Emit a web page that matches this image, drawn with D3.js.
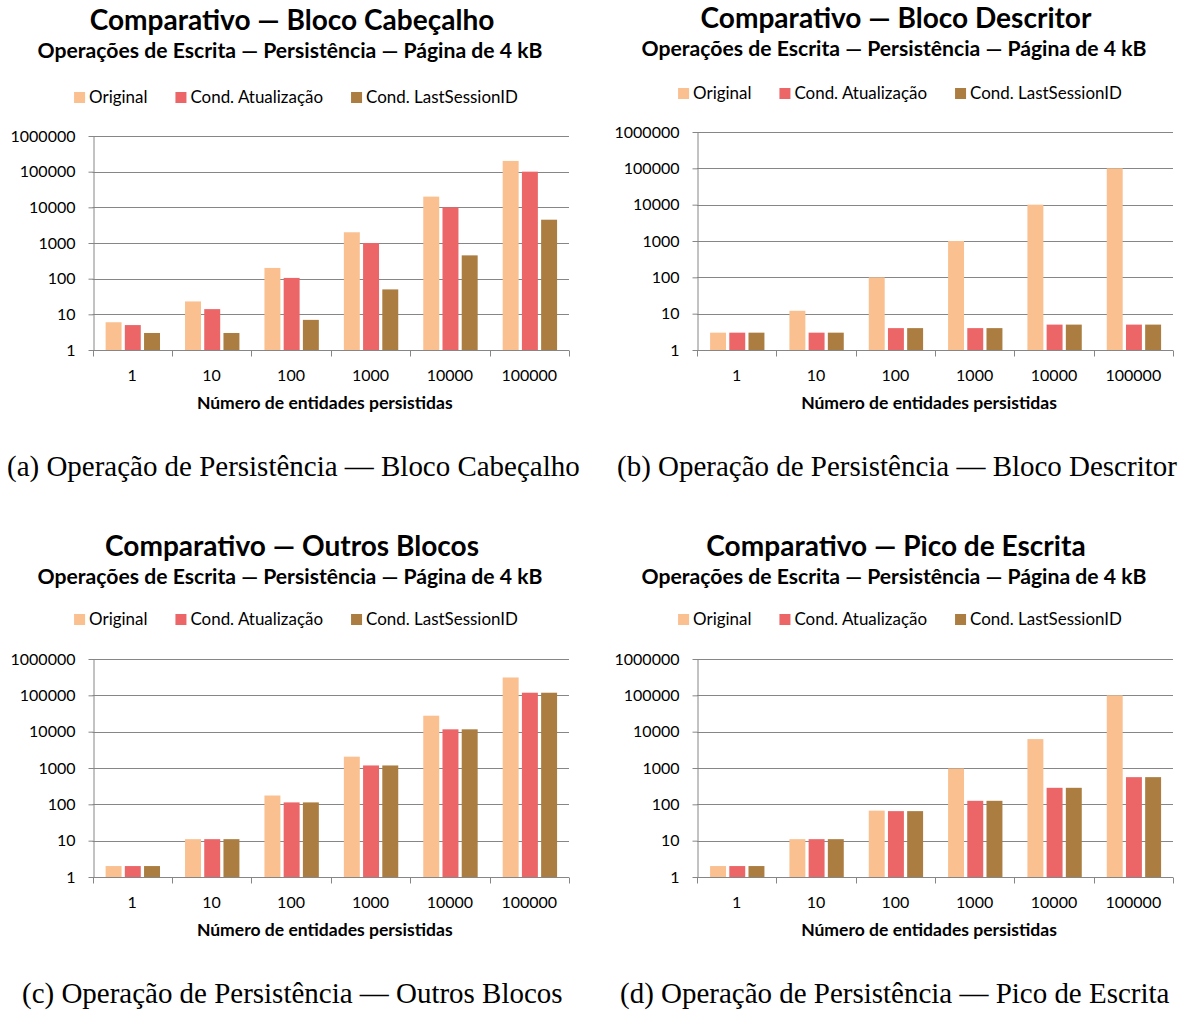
<!DOCTYPE html>
<html><head><meta charset="utf-8">
<script src="https://cdn.jsdelivr.net/npm/d3@7"></script>
<style>
html,body{margin:0;padding:0;background:#fff;}
svg{display:block;}
</style></head>
<body>
<svg id="chart" width="1178" height="1010"></svg>
<script>
const categories = ["1","10","100","1000","10000","100000"];
const seriesNames = ["Original","Cond. Atualização","Cond. LastSessionID"];
const seriesColors = ["#FAC090","#EC6567","#AB7D40"];
const yTickValues = [1,10,100,1000,10000,100000,1000000];

const cabecalhoOriginal    = [6,23,200,2000,20000,200000];
const cabecalhoAtualizacao = [5,14,105,1000,10000,100000];
const cabecalhoLastSession = [3,3,7,50,450,4500];

const descritorOriginal    = [3,12,100,1000,10000,100000];
const descritorAtualizacao = [3,3,4,4,5,5];
const descritorLastSession = [3,3,4,4,5,5];

const outrosOriginal    = [2,11,175,2050,27500,310000];
const outrosAtualizacao = [2,11,113,1175,11600,118000];
const outrosLastSession = [2,11,113,1175,11600,118000];

const picoOriginal    = [2,11,67,970,6250,100000];
const picoAtualizacao = [2,11,65,125,285,560];
const picoLastSession = [2,11,65,125,285,560];

const subtitleText = "Operações de Escrita — Persistência — Página de 4 kB";
const axisTitleText = "Número de entidades persistidas";

const panels = [
  {title:"Comparativo — Bloco Cabeçalho", caption:"(a) Operação de Persistência — Bloco Cabeçalho",
   series:[cabecalhoOriginal,cabecalhoAtualizacao,cabecalhoLastSession],
   left:92.5, right:569, top:136, bottom:350, cx:292, titleY:30, subY:58, legY:103, capX:7, capW:573, capY:476},
  {title:"Comparativo — Bloco Descritor", caption:"(b) Operação de Persistência — Bloco Descritor",
   series:[descritorOriginal,descritorAtualizacao,descritorLastSession],
   left:697, right:1173, top:132, bottom:350, cx:896, titleY:28, subY:56, legY:99, capX:617, capW:558, capY:476},
  {title:"Comparativo — Outros Blocos", caption:"(c) Operação de Persistência — Outros Blocos",
   series:[outrosOriginal,outrosAtualizacao,outrosLastSession],
   left:92.5, right:569, top:659, bottom:877, cx:292, titleY:556, subY:584, legY:625, capX:22, capW:543, capY:1003},
  {title:"Comparativo — Pico de Escrita", caption:"(d) Operação de Persistência — Pico de Escrita",
   series:[picoOriginal,picoAtualizacao,picoLastSession],
   left:697, right:1173, top:659, bottom:877, cx:896, titleY:556, subY:584, legY:625, capX:620, capW:555, capY:1003}
];

const svg = d3.select("#chart");
const SANS = "Lato, 'Open Sans', sans-serif";
const SERIF = "'Liberation Serif', 'DejaVu Serif', serif";

// fit font size so a reference string has a target width
function fitSize(text, family, weight, target){
  const t = svg.append("text").attr("font-family",family).attr("font-weight",weight)
    .attr("font-size",100).text(text);
  const w = t.node().getComputedTextLength();
  t.remove();
  return 100*target/w;
}
const titleSize = fitSize("Comparativo — Bloco Cabeçalho", SANS, 700, 405);
const subSize = fitSize(subtitleText, SANS, 700, 505);
const legSize = fitSize("Cond. LastSessionID", SANS, 400, 152);
const tickSize = fitSize("1000000", SANS, 400, 65);
const axisTitleSize = fitSize(axisTitleText, SANS, 700, 256);
const capSize = fitSize("(a) Operação de Persistência — Bloco Cabeçalho", SERIF, 400, 573);

const gridColor = "#868686";

panels.forEach(p => {
  const g = svg.append("g");
  const x0 = d3.scaleBand().domain(categories).range([p.left, p.right]).padding(0);
  const bw = x0.bandwidth();
  const x1 = d3.scaleBand().domain(d3.range(seriesNames.length))
    .range([bw*0.165, bw*0.85]).paddingInner(0.17);
  const y = d3.scaleLog().domain([1,1000000]).range([p.bottom, p.top]);

  // gridlines
  g.append("g").selectAll("line").data(yTickValues.slice(1)).join("line")
    .attr("x1",p.left).attr("x2",p.right)
    .attr("y1",d=>Math.round(y(d))+0.5).attr("y2",d=>Math.round(y(d))+0.5)
    .attr("stroke",gridColor).attr("stroke-width",1);

  // bars
  const rows = categories.map((c,i)=>({cat:c, vals:p.series.map(s=>s[i])}));
  const cg = g.append("g").selectAll("g").data(rows).join("g")
    .attr("transform",d=>`translate(${x0(d.cat)},0)`);
  cg.selectAll("rect").data(d=>d.vals.map((v,k)=>({v,k}))).join("rect")
    .attr("x",d=>x1(d.k)).attr("width",x1.bandwidth())
    .attr("y",d=>y(d.v)).attr("height",d=>y(1)-y(d.v))
    .attr("fill",d=>seriesColors[d.k]);

  // y axis
  const yAxis = d3.axisLeft(y).tickValues(yTickValues).tickFormat(d3.format("d"))
    .tickSize(5).tickPadding(13).tickSizeOuter(0);
  const ya = g.append("g").attr("transform",`translate(${Math.round(p.left)+0.5},0)`).call(yAxis);
  ya.select(".domain").attr("stroke",gridColor);
  ya.selectAll(".tick line").attr("stroke",gridColor);
  ya.selectAll(".tick text").attr("font-family",SANS).attr("font-size",tickSize).attr("fill","#000");

  // x axis
  const xa = g.append("g").attr("transform",`translate(0,${Math.round(p.bottom)+0.5})`);
  xa.append("line").attr("x1",p.left).attr("x2",p.right).attr("stroke",gridColor);
  xa.selectAll("line.tk").data(d3.range(categories.length+1)).join("line").attr("class","tk")
    .attr("x1",i=>Math.round(p.left + i*bw)+0.5).attr("x2",i=>Math.round(p.left + i*bw)+0.5)
    .attr("y1",0).attr("y2",6).attr("stroke",gridColor);
  xa.selectAll("text").data(categories).join("text")
    .attr("x",d=>x0(d)+bw/2).attr("y",30).attr("text-anchor","middle")
    .attr("font-family",SANS).attr("font-size",tickSize).text(d=>d);

  // axis title
  g.append("text").attr("x",(p.left+p.right)/2 - 6).attr("y",p.bottom+59)
    .attr("text-anchor","middle").attr("font-family",SANS).attr("font-weight",700)
    .attr("font-size",axisTitleSize).text(axisTitleText);

  // titles
  g.append("text").attr("x",p.cx).attr("y",p.titleY).attr("text-anchor","middle")
    .attr("font-family",SANS).attr("font-weight",700).attr("font-size",titleSize).text(p.title);
  g.append("text").attr("x",p.cx-2).attr("y",p.subY).attr("text-anchor","middle")
    .attr("font-family",SANS).attr("font-weight",700).attr("font-size",subSize).text(subtitleText);

  // legend
  const lg = g.append("g");
  let cur = 0;
  seriesNames.forEach((name,k)=>{
    const it = lg.append("g").attr("transform",`translate(${cur},0)`);
    it.append("rect").attr("x",0).attr("y",-11).attr("width",11).attr("height",11).attr("fill",seriesColors[k]);
    const t = it.append("text").attr("x",15).attr("y",0).attr("font-family",SANS)
      .attr("font-size",legSize).text(name);
    cur += 15 + t.node().getComputedTextLength() + 28;
  });
  const total = cur - 28;
  lg.attr("transform",`translate(${p.cx + 4 - total/2},${p.legY})`);

  // caption
  svg.append("text").attr("x",p.capX).attr("y",p.capY).attr("font-family",SERIF)
    .attr("font-size",capSize).text(p.caption);
});
</script>
</body></html>
